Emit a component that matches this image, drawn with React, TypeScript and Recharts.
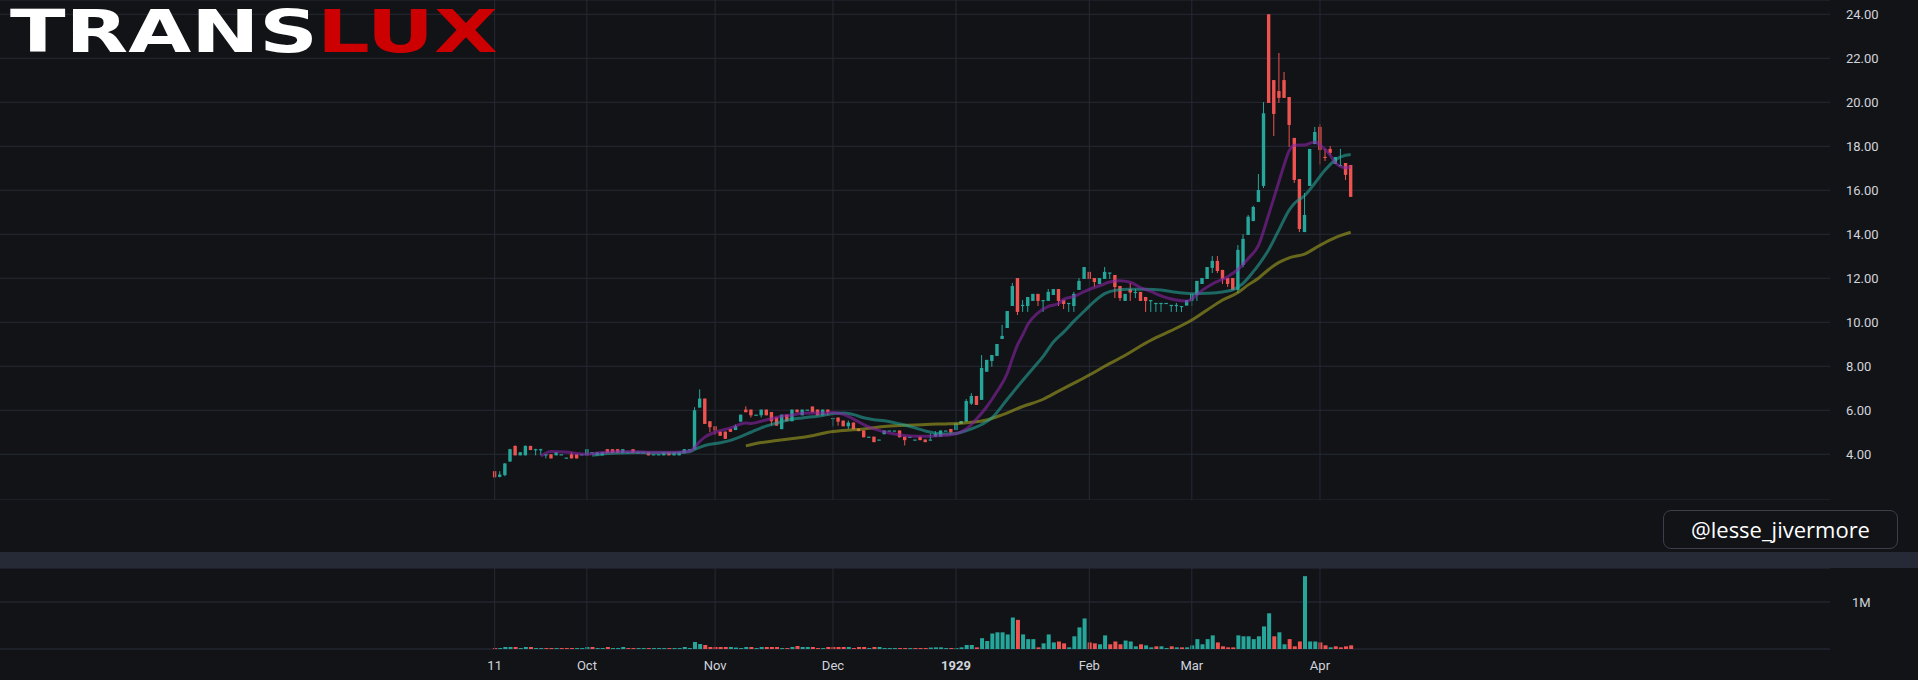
import React from "react"
import { ComposedChart, Bar, Line, XAxis, YAxis, CartesianGrid, ReferenceLine, Cell } from "recharts"

const BG = "#111317"
const GRID = "#262a34"
const UP = "#26a69a"
const DOWN = "#ef5350"
const TEXT = "#d1d4dc"

// daily bars, 11 Sep 1928 .. early Apr 1929
const opens = [
  3.23, 2.97, 3.05, 3.67, 4.38, 3.95, 3.95, 4.38, 4.23, 4.23,
  4.0, 4.0, 3.95, 4.0, 3.85, 4.0, 4.0, 4.0, 3.95, 4.09,
  3.95, 3.95, 4.23, 4.23, 4.23, 4.05, 4.09, 4.23, 4.09, 4.09,
  4.09, 4.0, 4.0, 3.95, 4.09, 3.95, 3.95, 4.05, 4.23, 4.22,
  6.12, 6.53, 5.5, 5.27, 5.03, 5.03, 5.15, 5.1, 5.48, 6.03,
  6.03, 5.8, 5.77, 6.03, 5.92, 5.67, 5.14, 5.8, 5.5, 6.03,
  5.77, 6.03, 6.17, 6.03, 5.77, 6.03, 5.65, 5.67, 5.53, 5.27,
  5.44, 5.17, 5.08, 4.8, 4.8, 4.67, 4.91, 5.08, 5.08, 5.08,
  4.8, 4.8, 4.67, 4.8, 4.67, 4.67, 4.8, 4.8, 5.08, 5.15,
  5.1, 5.38, 5.48, 6.3, 6.65, 6.47, 7.75, 8.24, 8.47, 9.24,
  9.74, 10.74, 12.01, 10.79, 10.74, 10.97, 11.29, 11.01, 10.97, 11.24,
  11.51, 11.01, 10.88, 10.74, 11.47, 11.97, 12.29, 12.01, 11.74, 11.97,
  12.26, 12.15, 11.65, 10.97, 11.51, 11.38, 11.38, 11.15, 11.01, 10.88,
  10.88, 10.88, 10.79, 10.79, 10.74, 10.76, 10.97, 11.24, 11.74, 11.97,
  12.47, 12.79, 12.38, 12.01, 12.01, 11.47, 12.6, 13.97, 14.6, 15.47,
  16.2, 24.0, 21.01, 20.51, 21.01, 20.24, 18.38, 16.51, 14.1, 16.2,
  18.1, 18.88, 17.52, 17.88, 17.2, 17.15, 17.24, 17.15,
]
const highs = [
  3.25, 3.23, 3.6, 4.25, 4.4, 4.09, 4.4, 4.38, 4.25, 4.25,
  4.0, 4.0, 4.09, 4.0, 3.85, 4.09, 4.0, 4.0, 4.23, 4.09,
  4.09, 4.09, 4.23, 4.23, 4.23, 4.23, 4.09, 4.23, 4.09, 4.09,
  4.09, 4.0, 4.0, 4.09, 4.09, 4.09, 4.09, 4.23, 4.23, 6.14,
  6.95, 6.53, 5.5, 5.27, 5.03, 5.03, 5.15, 5.35, 5.8, 6.18,
  6.03, 5.8, 6.03, 6.03, 5.92, 5.67, 5.8, 5.8, 6.03, 6.03,
  6.03, 6.03, 6.17, 6.03, 6.03, 6.03, 5.65, 5.67, 5.53, 5.53,
  5.44, 5.17, 5.08, 4.8, 4.8, 4.67, 5.08, 5.08, 5.08, 5.08,
  4.8, 4.8, 4.67, 4.8, 4.67, 4.94, 5.05, 5.08, 5.08, 5.15,
  5.41, 5.51, 6.51, 6.78, 6.65, 8.51, 8.29, 8.51, 9.01, 9.88,
  10.51, 11.79, 12.01, 11.01, 11.15, 11.29, 11.29, 11.01, 11.51, 11.51,
  11.51, 11.01, 10.88, 11.38, 12.01, 12.51, 12.29, 12.01, 12.01, 12.51,
  12.26, 12.15, 11.65, 11.29, 11.78, 11.51, 11.38, 11.15, 11.01, 10.88,
  10.88, 10.88, 10.79, 10.88, 10.74, 11.01, 11.29, 11.88, 12.01, 12.51,
  13.01, 13.01, 12.38, 12.01, 12.01, 13.51, 14.0, 14.88, 15.3, 16.74,
  20.01, 24.0, 21.01, 22.24, 21.38, 20.24, 18.38, 16.51, 15.88, 17.88,
  18.88, 19.01, 17.88, 18.01, 17.51, 17.88, 17.24, 17.15,
]
const lows = [
  2.95, 2.95, 3.0, 3.65, 3.95, 3.95, 3.95, 4.19, 3.95, 3.95,
  3.81, 3.81, 3.95, 4.0, 3.85, 3.81, 3.81, 4.0, 3.95, 4.09,
  3.95, 3.95, 4.05, 4.05, 4.05, 4.05, 4.09, 4.05, 4.09, 4.09,
  3.95, 4.0, 4.0, 3.95, 3.95, 3.95, 3.95, 4.05, 4.23, 4.22,
  6.12, 5.38, 5.0, 4.88, 4.84, 4.7, 5.02, 5.1, 5.48, 5.91,
  5.67, 5.8, 5.67, 5.77, 5.3, 5.3, 5.14, 5.5, 5.5, 5.91,
  5.77, 6.03, 5.91, 5.77, 5.77, 5.77, 5.27, 5.3, 5.27, 5.15,
  5.14, 5.05, 4.77, 4.8, 4.55, 4.67, 4.91, 5.08, 5.08, 4.77,
  4.4, 4.8, 4.67, 4.64, 4.55, 4.67, 4.8, 4.8, 5.08, 4.9,
  5.1, 5.38, 5.48, 6.24, 6.24, 6.47, 7.75, 7.98, 8.47, 9.24,
  9.74, 10.74, 10.33, 10.47, 10.47, 10.97, 10.74, 10.47, 10.97, 11.24,
  10.74, 10.6, 10.47, 10.47, 11.47, 11.97, 11.97, 11.6, 11.74, 11.97,
  11.97, 11.1, 10.97, 10.97, 10.97, 11.1, 10.97, 10.47, 10.47, 10.47,
  10.47, 10.88, 10.47, 10.47, 10.47, 10.76, 10.74, 10.97, 11.74, 11.97,
  12.24, 12.24, 11.74, 11.6, 11.47, 11.33, 12.5, 13.97, 14.6, 15.47,
  16.1, 19.97, 18.47, 19.97, 20.2, 17.97, 16.33, 14.1, 14.1, 16.2,
  18.1, 17.17, 17.33, 17.6, 17.2, 17.15, 16.47, 15.7,
]
const closes = [
  2.95, 3.08, 3.58, 4.23, 3.95, 4.09, 4.38, 4.19, 4.23, 4.23,
  4.0, 3.81, 4.09, 4.0, 3.85, 3.81, 3.81, 4.0, 4.23, 4.09,
  4.09, 4.09, 4.05, 4.05, 4.05, 4.23, 4.09, 4.05, 4.09, 4.09,
  3.95, 4.0, 4.0, 4.09, 3.95, 4.09, 4.09, 4.23, 4.23, 6.0,
  6.53, 5.38, 5.23, 5.08, 4.84, 4.7, 5.02, 5.28, 5.8, 5.91,
  5.77, 5.8, 6.03, 5.77, 5.5, 5.3, 5.8, 5.5, 6.03, 5.91,
  6.03, 6.03, 5.91, 5.77, 6.03, 5.91, 5.65, 5.48, 5.27, 5.44,
  5.14, 5.05, 4.77, 4.8, 4.55, 4.67, 5.08, 5.08, 5.08, 4.77,
  4.64, 4.8, 4.67, 4.64, 4.55, 4.67, 4.94, 5.08, 5.08, 5.0,
  5.41, 5.51, 6.42, 6.65, 6.24, 7.92, 8.29, 8.51, 9.01, 9.38,
  10.51, 11.65, 10.47, 10.79, 11.15, 11.29, 10.97, 11.01, 11.38, 11.51,
  10.97, 10.83, 10.88, 11.29, 11.88, 12.51, 11.97, 11.83, 12.01, 12.29,
  12.26, 11.6, 11.1, 11.29, 11.35, 11.38, 10.97, 10.97, 11.01, 10.88,
  10.88, 10.88, 10.79, 10.79, 10.74, 11.01, 11.29, 11.88, 12.01, 12.51,
  12.79, 12.33, 11.97, 11.74, 11.47, 13.29, 13.79, 14.8, 15.24, 16.01,
  19.5, 19.97, 19.47, 20.2, 20.2, 18.97, 16.47, 14.24, 14.88, 17.88,
  18.65, 17.83, 17.5, 17.7, 17.51, 17.15, 16.7, 15.7,
]
// volume in millions of shares
const volumes = [
  0.02, 0.02, 0.043, 0.043, 0.043, 0.02, 0.043, 0.043, 0.02, 0.02,
  0.02, 0.02, 0.02, 0.02, 0.02, 0.02, 0.02, 0.02, 0.043, 0.043,
  0.02, 0.02, 0.043, 0.02, 0.02, 0.043, 0.02, 0.02, 0.02, 0.02,
  0.02, 0.02, 0.02, 0.02, 0.02, 0.02, 0.02, 0.043, 0.02, 0.149,
  0.106, 0.085, 0.043, 0.043, 0.043, 0.043, 0.043, 0.03, 0.02, 0.043,
  0.043, 0.02, 0.043, 0.043, 0.043, 0.043, 0.02, 0.02, 0.043, 0.064,
  0.043, 0.043, 0.043, 0.02, 0.02, 0.043, 0.043, 0.043, 0.043, 0.043,
  0.02, 0.043, 0.043, 0.02, 0.043, 0.043, 0.02, 0.02, 0.02, 0.02,
  0.02, 0.02, 0.02, 0.02, 0.02, 0.03, 0.035, 0.035, 0.02, 0.02,
  0.02, 0.035, 0.085, 0.085, 0.035, 0.23, 0.17, 0.33, 0.355, 0.355,
  0.31, 0.67, 0.62, 0.31, 0.21, 0.21, 0.035, 0.12, 0.31, 0.14,
  0.16, 0.12, 0.035, 0.27, 0.46, 0.65, 0.14, 0.12, 0.1, 0.29,
  0.1, 0.16, 0.1, 0.18, 0.16, 0.057, 0.1, 0.078, 0.035, 0.057,
  0.057, 0.02, 0.057, 0.035, 0.035, 0.035, 0.078, 0.21, 0.1, 0.21,
  0.29, 0.14, 0.057, 0.035, 0.035, 0.29, 0.27, 0.27, 0.21, 0.27,
  0.48, 0.76, 0.27, 0.355, 0.1, 0.21, 0.057, 0.16, 1.55, 0.16,
  0.16, 0.14, 0.078, 0.035, 0.057, 0.035, 0.057, 0.078,
]

// moving averages: [bar index, value]
const ma10 = [
  [9, 3.92], [11, 4.13], [14, 4.1], [16, 4.03], [18, 4.0], [21, 4.08], [25, 4.12], [28, 4.11],
  [31, 4.09], [35, 4.09], [38, 4.14], [39, 4.3], [40, 4.58], [41, 4.78], [43, 5.0], [46, 5.2],
  [49, 5.42], [50, 5.4], [52, 5.5], [54, 5.62], [56, 5.73], [58, 5.78], [60, 5.86], [62, 5.88],
  [64, 5.88], [66, 5.9], [68, 5.82], [70, 5.6], [72, 5.35], [74, 5.15], [76, 5.02], [78, 4.92],
  [80, 4.85], [82, 4.82], [85, 4.82], [87, 4.85], [89, 4.89], [91, 5.02], [92, 5.15], [94, 5.6],
  [96, 6.16], [98, 6.85], [100, 7.68], [101, 8.36], [102, 8.97], [103, 9.42], [104, 9.9],
  [106, 10.43], [108, 10.72], [110, 10.85], [111, 11.04], [113, 11.17], [115, 11.39], [117, 11.58],
  [118, 11.66], [120, 11.83], [122, 11.89], [124, 11.82], [126, 11.58], [128, 11.4], [130, 11.2],
  [132, 11.06], [134, 10.98], [135, 10.96], [136, 11.06], [138, 11.45], [140, 11.74], [143, 12.07],
  [145, 12.4], [147, 12.9], [149, 13.5], [151, 14.9], [153, 16.4], [154, 17.15], [155, 17.8],
  [156, 18.05], [158, 18.06], [160, 18.2], [161, 18.06], [163, 17.6], [164, 17.25], [166, 17.02],
  [167, 17.07],
]
const ma20 = [
  [19, 3.95], [22, 4.03], [25, 4.06], [28, 4.08], [31, 4.06], [35, 4.06], [38, 4.11], [39, 4.22],
  [41, 4.4], [44, 4.52], [46, 4.63], [48, 4.8], [50, 5.0], [52, 5.2], [54, 5.35], [56, 5.48],
  [58, 5.6], [60, 5.65], [62, 5.7], [64, 5.76], [66, 5.85], [68, 5.88], [70, 5.8], [72, 5.66],
  [74, 5.57], [76, 5.52], [78, 5.43], [80, 5.33], [82, 5.2], [84, 5.06], [86, 4.96], [88, 4.92],
  [90, 4.94], [91, 5.0], [93, 5.15], [95, 5.35], [97, 5.65], [100, 6.5], [103, 7.35], [105, 7.9],
  [107, 8.45], [109, 9.1], [111, 9.55], [113, 10.05], [115, 10.5], [117, 10.95], [119, 11.3],
  [121, 11.45], [124, 11.5], [127, 11.5], [130, 11.47], [133, 11.36], [136, 11.3], [139, 11.32],
  [142, 11.38], [144, 11.47], [146, 11.77], [148, 12.3], [149, 12.6], [151, 13.3], [153, 14.2],
  [155, 15.1], [156, 15.4], [158, 15.75], [160, 16.32], [162, 16.92], [164, 17.38], [166, 17.59],
  [167, 17.63],
]
const ma50 = [
  [49, 4.38], [52, 4.53], [55, 4.62], [59, 4.74], [62, 4.84], [65, 5.0], [68, 5.08], [72, 5.15],
  [75, 5.24], [78, 5.3], [82, 5.33], [85, 5.36], [88, 5.38], [91, 5.41], [93, 5.45], [96, 5.56],
  [99, 5.79], [103, 6.17], [107, 6.5], [110, 6.87], [113, 7.23], [116, 7.6], [119, 8.0], [123, 8.5],
  [126, 8.92], [129, 9.3], [132, 9.62], [136, 10.1], [139, 10.56], [142, 11.01], [145, 11.35],
  [147, 11.7], [149, 12.0], [151, 12.4], [153, 12.72], [155, 12.93], [158, 13.1], [161, 13.5],
  [164, 13.85], [167, 14.09],
]

const monthIdx = [0, 18, 43, 66, 90, 116, 136, 161]
const monthLabels = ["11", "Oct", "Nov", "Dec", "1929", "Feb", "Mar", "Apr"]
const priceTicks = [4, 6, 8, 10, 12, 14, 16, 18, 20, 22, 24]

// empty slots left and right of the bars (the chart's scroll offset)
const PAD_LEFT = 96
const PAD_RIGHT = 93

const rows: any[] = []
for (let k = 0; k < PAD_LEFT + closes.length + PAD_RIGHT; k++) {
  const i = k - PAD_LEFT
  const row: any = { k }
  if (i >= 0 && i < closes.length) {
    row.o = opens[i]
    row.h = highs[i]
    row.l = lows[i]
    row.c = closes[i]
    row.range = [lows[i], highs[i]]
    row.vol = volumes[i] * 1e6
    row.volUp = i === 0 ? closes[0] >= opens[0] : closes[i] >= closes[i - 1]
  }
  rows.push(row)
}
ma10.forEach(([i, v]) => (rows[i + PAD_LEFT].m10 = v))
ma20.forEach(([i, v]) => (rows[i + PAD_LEFT].m20 = v))
ma50.forEach(([i, v]) => (rows[i + PAD_LEFT].m50 = v))

const labelOf = (k: number) => monthLabels[monthIdx.indexOf(k - PAD_LEFT)] ?? ""

const Candle = (props: any) => {
  const { x, y, width, height, payload } = props
  if (!payload || payload.o == null || !isFinite(y)) return <g />
  const { o, h, l, c } = payload
  const color = c >= o ? UP : DOWN
  const cx = x + width / 2
  const py = (v: number) => (h === l ? y : y + ((h - v) / (h - l)) * height)
  const top = py(Math.max(o, c))
  const bot = py(Math.min(o, c))
  return (
    <g>
      {height > 0 && <rect x={cx - 0.5} y={y} width={1} height={height} fill={color} />}
      <rect x={cx - 1.7} y={top} width={3.4} height={Math.max(bot - top, 1.2)} fill={color} />
    </g>
  )
}

const MonthTick = (props: any) => {
  const { x, y, payload } = props
  const label = labelOf(payload.value)
  return (
    <text x={x} y={y} dy={13} textAnchor="middle" fill={TEXT} fontSize={13}
      fontFamily="Roboto" fontWeight={label === "1929" ? 700 : 400}>
      {label}
    </text>
  )
}

const monthKeys = monthIdx.map((i) => i + PAD_LEFT)

export default function App() {
  return (
    <div style={{ position: "fixed", left: 0, top: 0, width: 1918, height: 680, background: BG, overflow: "hidden", fontFamily: "Roboto" }}>
      <div style={{ position: "absolute", left: 0, top: 0 }}>
        <ComposedChart width={1918} height={500} data={rows} margin={{ top: 0, right: 0, bottom: 0, left: 0 }} barCategoryGap="10%">
          <CartesianGrid vertical={false} stroke={GRID} />
          <XAxis dataKey="k" type="category" hide />
          <YAxis
            orientation="right"
            width={88}
            domain={[1.92, 24.65]}
            ticks={priceTicks}
            allowDataOverflow
            axisLine={false}
            tickLine={false}
            tickMargin={10}
            tickFormatter={(v) => v.toFixed(2)}
            tick={{ fill: TEXT, fontSize: 13, fontFamily: "Roboto" }}
          />
          {monthKeys.map((k) => (
            <ReferenceLine key={k} x={k} stroke={GRID} strokeWidth={1} />
          ))}
          <Bar dataKey="range" shape={<Candle />} isAnimationActive={false} />
          <Line dataKey="m50" type="monotone" stroke="#a3a21f" strokeOpacity={0.6} strokeWidth={3} dot={false} activeDot={false} connectNulls isAnimationActive={false} />
          <Line dataKey="m20" type="monotone" stroke="#26a69a" strokeOpacity={0.58} strokeWidth={3} dot={false} activeDot={false} connectNulls isAnimationActive={false} />
          <Line dataKey="m10" type="monotone" stroke="#8e24aa" strokeOpacity={0.58} strokeWidth={3} dot={false} activeDot={false} connectNulls isAnimationActive={false} />
        </ComposedChart>
      </div>

      <div style={{ position: "absolute", left: 0, top: 552, width: 1918, height: 16, background: "#262a36" }} />

      <div style={{ position: "absolute", left: 0, top: 568 }}>
        <ComposedChart width={1918} height={112} data={rows} margin={{ top: 0, right: 0, bottom: 0, left: 0 }}>
          <CartesianGrid vertical={false} stroke="#1d2029" strokeWidth={2} />
          <XAxis
            dataKey="k"
            type="category"
            height={31}
            ticks={monthKeys}
            interval={0}
            axisLine={false}
            tickLine={false}
            tick={<MonthTick />}
          />
          <YAxis
            orientation="right"
            width={88}
            domain={[0, 1723400]}
            ticks={[1000000]}
            allowDataOverflow
            axisLine={false}
            tickLine={false}
            tickMargin={16}
            tickFormatter={() => "1M"}
            tick={{ fill: TEXT, fontSize: 13, fontFamily: "Roboto" }}
          />
          {monthKeys.map((k) => (
            <ReferenceLine key={k} x={k} stroke={GRID} strokeWidth={1} />
          ))}
          <Bar dataKey="vol" barSize={4} isAnimationActive={false}>
            {rows.map((r) => (
              <Cell key={r.k} fill={r.volUp ? UP : DOWN} />
            ))}
          </Bar>
        </ComposedChart>
      </div>

      <svg width={560} height={80} style={{ position: "absolute", left: 0, top: 0, overflow: "visible" }}>
        <text x={10} y={52} textLength={308} lengthAdjust="spacingAndGlyphs" fontFamily="DejaVu Sans" fontWeight={700} fontSize={59} fill="#ffffff">
          TRANS
        </text>
        <text x={317} y={52} textLength={181} lengthAdjust="spacingAndGlyphs" fontFamily="DejaVu Sans" fontWeight={700} fontSize={59} fill="#cc0000">
          LUX
        </text>
      </svg>

      <div
        style={{
          position: "absolute",
          left: 1663,
          top: 510,
          width: 233,
          height: 37,
          border: "1px solid #3b3f4b",
          borderRadius: 8,
          background: BG,
          color: "#ffffff",
          fontFamily: "Open Sans",
          fontSize: 22,
          lineHeight: "37px",
          textAlign: "center",
        }}
      >
        @lesse_jivermore
      </div>
    </div>
  )
}
